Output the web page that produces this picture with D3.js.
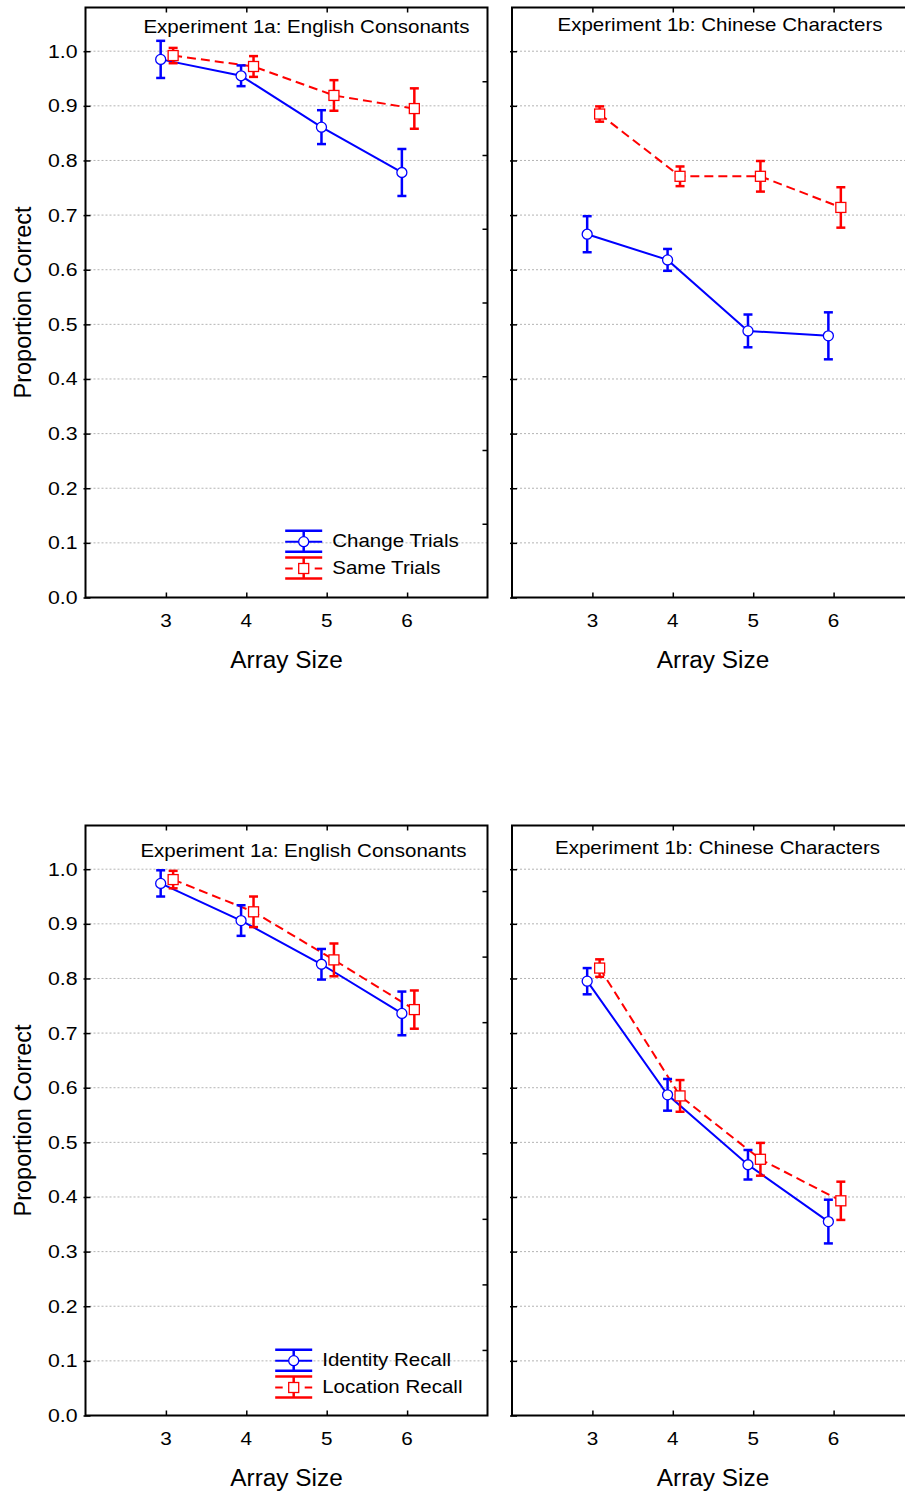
<!DOCTYPE html>
<html>
<head>
<meta charset="utf-8">
<script src="https://cdn.jsdelivr.net/npm/d3@7"></script>
<style>
  body { margin: 0; background: #fff; }
  text { font-family: "Liberation Sans", Arial, sans-serif; fill: #000; }
</style>
</head>
<body>
<div id="chart"></div>
<script>
// Array sizes on the x axis
const arraySizes = [3, 4, 5, 6];
const yTicks = [0, 0.1, 0.2, 0.3, 0.4, 0.5, 0.6, 0.7, 0.8, 0.9, 1.0];

// Experiment 1a / 1b, change vs same trials (top row)
const exp1aChangeMean = [0.985, 0.955, 0.861, 0.778];
const exp1aChangeErr  = [0.034, 0.019, 0.031, 0.043];
const exp1aSameMean   = [0.992, 0.972, 0.919, 0.895];
const exp1aSameErr    = [0.014, 0.019, 0.028, 0.037];

const exp1bChangeMean = [0.665, 0.618, 0.488, 0.479];
const exp1bChangeErr  = [0.033, 0.020, 0.030, 0.043];
const exp1bSameMean   = [0.885, 0.771, 0.771, 0.714];
const exp1bSameErr    = [0.014, 0.018, 0.028, 0.037];

// Identity vs location recall (bottom row)
const exp1aIdentityMean = [0.974, 0.906, 0.826, 0.736];
const exp1aIdentityErr  = [0.024, 0.028, 0.028, 0.040];
const exp1aLocationMean = [0.981, 0.922, 0.834, 0.743];
const exp1aLocationErr  = [0.016, 0.028, 0.030, 0.035];

const exp1bIdentityMean = [0.795, 0.587, 0.459, 0.355];
const exp1bIdentityErr  = [0.024, 0.029, 0.027, 0.040];
const exp1bLocationMean = [0.819, 0.585, 0.469, 0.393];
const exp1bLocationErr  = [0.016, 0.029, 0.030, 0.035];

const topLegend = ["Change Trials", "Same Trials"];
const bottomLegend = ["Identity Recall", "Location Recall"];

const BLUE = "#0000ff", RED = "#ff0000";

const width = 905, height = 1499;
const colLeft = [85.5, 512], rowTop = [7.5, 825.5];
const pw = 402, ph = 590;

const panels = [
    { col: 0, row: 0, title: "Experiment 1a: English Consonants", tdx: 221, tdy: 25,
      a: [exp1aChangeMean, exp1aChangeErr], b: [exp1aSameMean, exp1aSameErr], legend: topLegend, rightTicks: 8 },
    { col: 1, row: 0, title: "Experiment 1b: Chinese Characters", tdx: 208, tdy: 23,
      a: [exp1bChangeMean, exp1bChangeErr], b: [exp1bSameMean, exp1bSameErr], legend: null, rightTicks: 8 },
    { col: 0, row: 1, title: "Experiment 1a: English Consonants", tdx: 218, tdy: 31.5,
      a: [exp1aIdentityMean, exp1aIdentityErr], b: [exp1aLocationMean, exp1aLocationErr], legend: bottomLegend, rightTicks: 9 },
    { col: 1, row: 1, title: "Experiment 1b: Chinese Characters", tdx: 205.5, tdy: 28,
      a: [exp1bIdentityMean, exp1bIdentityErr], b: [exp1bLocationMean, exp1bLocationErr], legend: null, rightTicks: 9 }
];

const svg = d3.select("#chart").append("svg")
    .attr("width", width)
    .attr("height", height)
    .style("display", "block");

// text is a bit wider than plain Arial in the source, so stretch it horizontally
function addText(g, x, y, str, size, anchor, sx) {
    return g.append("text")
        .attr("transform", `translate(${x},${y}) scale(${sx},1)`)
        .attr("text-anchor", anchor)
        .style("font-size", size + "px")
        .text(str);
}

panels.forEach(p => {
    const g = svg.append("g").attr("transform", `translate(${colLeft[p.col]},${rowTop[p.row]})`);
    const x = d3.scaleLinear().domain([2, 7]).range([0, pw]);
    const y = d3.scaleLinear().domain([0, ph / 546.3]).range([ph, 0]);
    const yRight = d3.scaleLinear().domain([0, p.rightTicks]).range([ph, 0]);

    // grid
    g.append("g").selectAll("line")
        .data(yTicks.slice(1))
        .join("line")
        .attr("x1", 0).attr("x2", pw)
        .attr("y1", d => y(d)).attr("y2", d => y(d))
        .attr("stroke", "#b4b4b4")
        .attr("stroke-width", 1)
        .attr("stroke-dasharray", "2,2");

    // axes with inward ticks
    const axL = g.append("g").call(d3.axisRight(y).tickValues(yTicks).tickSize(5).tickFormat(""));
    const axB = g.append("g").attr("transform", `translate(0,${ph})`)
        .call(d3.axisTop(x).tickValues(arraySizes).tickSize(5).tickFormat(""));
    const axT = g.append("g").call(d3.axisBottom(x).tickValues(arraySizes).tickSize(5).tickFormat(""));
    const axR = g.append("g").attr("transform", `translate(${pw},0)`)
        .call(d3.axisLeft(yRight).tickValues(d3.range(1, p.rightTicks)).tickSize(5).tickFormat(""));
    [axL, axB, axT, axR].forEach(a => {
        a.select(".domain").remove();
        a.selectAll(".tick line").attr("stroke", "#000").attr("stroke-width", 1.5);
    });
    axL.selectAll(".tick line").attr("x1", -2);

    g.append("rect")
        .attr("width", pw).attr("height", ph)
        .attr("fill", "none")
        .attr("stroke", "#000")
        .attr("stroke-width", 2);

    // tick labels
    arraySizes.forEach(v => addText(g, x(v), ph + 29, String(v), 18, "middle", 1.15));
    if (p.col === 0) {
        yTicks.forEach(v => addText(g, -8, y(v) + 6.5, d3.format(".1f")(v), 18.5, "end", 1.15));
        g.append("text")
            .attr("transform", `translate(${31 - colLeft[0]},${ph / 2}) rotate(-90)`)
            .attr("text-anchor", "middle")
            .style("font-size", "23.5px")
            .text("Proportion Correct");
    }
    addText(g, pw / 2, ph + 70.5, "Array Size", 23, "middle", 1.06);
    addText(g, p.tdx, p.tdy, p.title, 18, "middle", 1.14);

    // series
    const series = [
        { mean: p.a[0], err: p.a[1], color: BLUE, dx: -0.065, dash: null, shape: "circle" },
        { mean: p.b[0], err: p.b[1], color: RED, dx: 0.09, dash: "9,5", shape: "square" }
    ];
    const line = d3.line().x(d => x(d.x)).y(d => y(d.m));
    const toPts = s => arraySizes.map((v, i) => ({ x: v + s.dx, m: s.mean[i], e: s.err[i] }));

    series.forEach(s => {
        g.append("path")
            .datum(toPts(s))
            .attr("d", line)
            .attr("fill", "none")
            .attr("stroke", s.color)
            .attr("stroke-width", 2)
            .attr("stroke-dasharray", s.dash);
    });
    series.forEach(s => {
        const pts = toPts(s);
        const eb = g.append("g").attr("stroke", s.color).attr("stroke-width", 2.5);
        eb.selectAll(".v").data(pts).join("line")
            .attr("x1", d => x(d.x)).attr("x2", d => x(d.x))
            .attr("y1", d => y(d.m - d.e)).attr("y2", d => y(d.m + d.e));
        eb.selectAll(".ct").data(pts).join("line")
            .attr("x1", d => x(d.x) - 4.5).attr("x2", d => x(d.x) + 4.5)
            .attr("y1", d => y(d.m + d.e)).attr("y2", d => y(d.m + d.e));
        eb.selectAll(".cb").data(pts).join("line")
            .attr("x1", d => x(d.x) - 4.5).attr("x2", d => x(d.x) + 4.5)
            .attr("y1", d => y(d.m - d.e)).attr("y2", d => y(d.m - d.e));
        if (s.shape === "circle") {
            g.append("g").selectAll("circle").data(pts).join("circle")
                .attr("cx", d => x(d.x)).attr("cy", d => y(d.m)).attr("r", 5)
                .attr("fill", "#fff").attr("stroke", s.color).attr("stroke-width", 1.3);
        } else {
            g.append("g").selectAll("rect").data(pts).join("rect")
                .attr("x", d => x(d.x) - 5).attr("y", d => y(d.m) - 5)
                .attr("width", 10).attr("height", 10)
                .attr("fill", "#fff").attr("stroke", s.color).attr("stroke-width", 1.3);
        }
    });

    // legend
    if (p.legend) {
        const lx = p.row === 0 ? 218.2 : 208.2;
        const ly = p.row === 0 ? 534.2 : 535.2;
        series.forEach((s, i) => {
            const cy = ly + i * 26.8;
            const lg = g.append("g").attr("stroke", s.color).attr("stroke-width", 2.5);
            lg.append("line").attr("x1", lx - 18.5).attr("x2", lx + 18.5).attr("y1", cy - 11).attr("y2", cy - 11);
            lg.append("line").attr("x1", lx - 18.5).attr("x2", lx + 18.5).attr("y1", cy + 10).attr("y2", cy + 10);
            lg.append("line").attr("x1", lx).attr("x2", lx).attr("y1", cy - 11).attr("y2", cy + 10);
            if (s.shape === "circle") {
                lg.append("line").attr("x1", lx - 18.5).attr("x2", lx + 18.5).attr("y1", cy).attr("y2", cy).attr("stroke-width", 2);
                lg.append("circle").attr("cx", lx).attr("cy", cy).attr("r", 5)
                    .attr("fill", "#fff").attr("stroke-width", 1.3);
            } else {
                lg.append("line").attr("x1", lx - 18.5).attr("x2", lx - 11).attr("y1", cy).attr("y2", cy).attr("stroke-width", 2);
                lg.append("line").attr("x1", lx + 11).attr("x2", lx + 18.5).attr("y1", cy).attr("y2", cy).attr("stroke-width", 2);
                lg.append("rect").attr("x", lx - 5).attr("y", cy - 5).attr("width", 10).attr("height", 10)
                    .attr("fill", "#fff").attr("stroke-width", 1.3);
            }
            addText(g, lx + 28.5, cy + 5.3, p.legend[i], 18, "start", 1.14);
        });
    }
});
</script>
</body>
</html>
